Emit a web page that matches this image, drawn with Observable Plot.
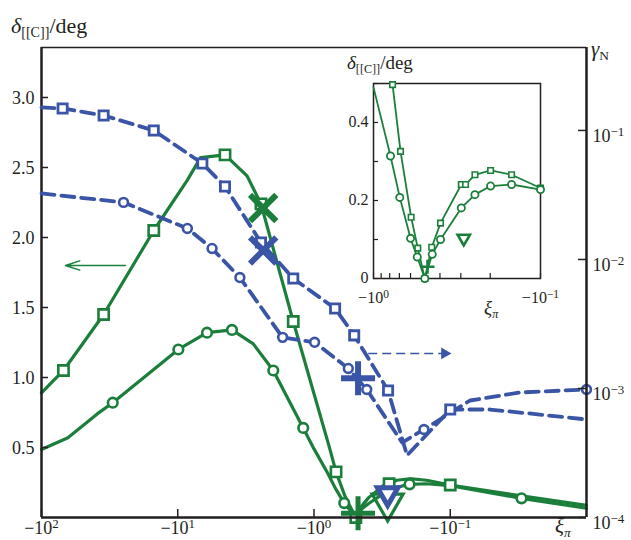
<!DOCTYPE html>
<html><head><meta charset="utf-8">
<script src="https://cdn.jsdelivr.net/npm/d3@7"></script>
<script src="https://cdn.jsdelivr.net/npm/@observablehq/plot@0.6"></script>
<style>
body{margin:0;background:#fff;}
#wrap{position:relative;width:631px;height:540px;overflow:hidden;}
#wrap svg{position:absolute;left:0;top:0;}
#wrap svg text{font-family:"Liberation Serif",serif;}
</style></head><body>
<div id="wrap"></div>
<script>
// ---------- data (xi = ξπ, negative values) ----------
const xiDomain = [-100, -0.01];
const deltaMax = 3.357;
const gammaDomain = [1e-4, 0.4395];

const xiTicksMain = [-100, -10, -1, -0.1];
const xiTickLabels = ["−10^2", "−10^1", "−10^0", "−10^−1"];
const deltaTicks = [0.5, 1.0, 1.5, 2.0, 2.5, 3.0];
const gammaTicks = [1e-4, 1e-3, 1e-2, 1e-1];
const gammaTickLabels = ["10^−4", "10^−3", "10^−2", "10^−1"];

const insetXiDomain = [-1, -0.1];
const insetDeltaDomain = [0, 0.5];
const insetXTicks = [-1, -0.9, -0.8, -0.7, -0.6, -0.5, -0.4, -0.3, -0.2, -0.1];
const insetXLabelTicks = [-1, -0.1];
const insetXTickLabels = ["−10^0", "−10^−1"];
const insetYTicks = [0, 0.1, 0.2, 0.3, 0.4, 0.5];
const insetYLabelTicks = [0, 0.2, 0.4];
const insetYTickLabels = ["0", "0.2", "0.4"];

// green solid, squares: δ[[C]] (deg)
const gSqXi    = [-100, -69, -35, -15, -8.5, -6.8, -4.5, -3.1, -2.45, -1.42, -0.769, -0.689, -0.595, -0.543, -0.493, -0.448, -0.397, -0.298, -0.281, -0.247, -0.199, -0.149, -0.1, -0.03, -0.01];
const gSqDelta = [0.89, 1.05, 1.45, 2.05, 2.41, 2.57, 2.59, 2.44, 2.24, 1.40, 0.497, 0.326, 0.157, 0.078, 0.0, 0.080, 0.142, 0.241, 0.241, 0.266, 0.277, 0.266, 0.232, 0.155, 0.087];
const gSqMainMarks = [-69, -35, -15, -4.5, -2.45, -1.42, -0.689, -0.493, -0.281, -0.1];

// green solid, circles: δ[[C]] (deg)
const gCiXi    = [-100, -64, -39, -30, -9.9, -6.1, -4.0, -2.79, -1.99, -1.2, -1.0, -0.791, -0.696, -0.6, -0.547, -0.493, -0.445, -0.397, -0.298, -0.247, -0.199, -0.149, -0.1, -0.03, -0.01];
const gCiDelta = [0.486, 0.57, 0.74, 0.82, 1.20, 1.32, 1.34, 1.24, 1.05, 0.64, 0.49, 0.314, 0.208, 0.103, 0.055, 0.0, 0.062, 0.100, 0.181, 0.215, 0.237, 0.241, 0.228, 0.137, 0.066];
const gCiMainMarks = [-30, -9.9, -6.1, -4.0, -1.99, -1.2, -0.6, -0.199, -0.03];

// blue dashed, squares: γN
const bSqXi    = [-100, -70, -35, -15, -6.6, -4.5, -2.45, -1.42, -0.70, -0.507, -0.286, -0.2075, -0.1, -0.0511, -0.022, -0.01];
const bSqGamma = [0.1507, 0.148, 0.1306, 0.100, 0.0555, 0.0368, 0.01355, 0.00713, 0.00417, 0.00258, 0.000964, 0.000303, 0.000687, 0.000687, 0.000628, 0.000575];
const bSqMarks = [-70, -35, -15, -6.6, -4.5, -2.45, -1.42, -0.70, -0.507, -0.286, -0.1];

// blue dashed, circles: γN
const bCiXi    = [-100, -25, -8.5, -5.6, -3.5, -1.7, -0.99, -0.56, -0.41, -0.2255, -0.156, -0.0716, -0.0308, -0.01];
const bCiGamma = [0.0325, 0.0277, 0.0174, 0.01217, 0.00724, 0.00249, 0.00228, 0.00143, 0.000982, 0.000381, 0.000481, 0.000807, 0.000931, 0.000982];
const bCiMarks = [-25, -8.5, -5.6, -3.5, -1.7, -0.99, -0.56, -0.41, -0.156, -0.01];

// special symbols
const crossXi = [-2.36], crossDelta = [2.21], crossGamma = [0.01175];
const plusXi = [-0.475], plusDelta = [0.03], plusGamma = [0.0012];
const triXi = [-0.288], triDelta = [0.103], triGamma = [1.53e-4];

// annotation arrows
const greenArrow = [{x1: -24.2, x2: -66.7, y: 1.8}];
const blueArrow = [{x1: -0.40, x2: -0.11, y: 0.00187}];

// ---------- build ----------
const W = 631, H = 540;
const GREEN = "#1b7f3b", BLUE = "#3a55a5", INK = "#231f20";
const FONT = "Liberation Serif";
const M = {marginLeft: 41, marginRight: 45, marginTop: 47, marginBottom: 23};
const FW = W - M.marginLeft - M.marginRight, FH = H - M.marginTop - M.marginBottom;

const pts = (xs, vs) => xs.map((x, i) => ({xi: x, v: vs[i]}));
const pick = (arr, marks) => arr.filter(d => marks.includes(d.xi));
const gSq = pts(gSqXi, gSqDelta), gCi = pts(gCiXi, gCiDelta);
const bSq = pts(bSqXi, bSqGamma), bCi = pts(bCiXi, bCiGamma);
const crossG = pts(crossXi, crossDelta), crossB = pts(crossXi, crossGamma);
const plusG = pts(plusXi, plusDelta), plusB = pts(plusXi, plusGamma);
const triG = pts(triXi, triDelta), triB = pts(triXi, triGamma);
const fmtMap = (ticks, labels) => { const m = new Map(ticks.map((t, i) => [t, labels[i]])); return d => m.get(d); };
const baseStyle = (fs) => ({fontFamily: FONT, fontSize: fs, background: "transparent", overflow: "visible", color: INK});

const pG = Plot.plot({
  width: W, height: H, ...M,
  style: baseStyle("18px"),
  x: {type: "log", domain: xiDomain, label: null},
  y: {domain: [0, deltaMax], label: null},
  marks: [
    Plot.ruleY([deltaMax], {stroke: INK, strokeWidth: 1.5}),
    Plot.arrow(greenArrow, {x1: "x1", x2: "x2", y1: "y", y2: "y", stroke: GREEN, strokeWidth: 1.5, headLength: 15, headAngle: 36}),
    Plot.line(gSq, {x: "xi", y: "v", stroke: GREEN, strokeWidth: 3.2}),
    Plot.line(gCi, {x: "xi", y: "v", stroke: GREEN, strokeWidth: 3.2}),
    Plot.dot(pick(gSq, gSqMainMarks), {x: "xi", y: "v", symbol: "square", r: 5.8, fill: "white", stroke: GREEN, strokeWidth: 2.6}),
    Plot.dot(pick(gCi, gCiMainMarks), {x: "xi", y: "v", symbol: "circle", r: 4.8, fill: "white", stroke: GREEN, strokeWidth: 2.6}),
    Plot.dot(crossG, {x: "xi", y: "v", symbol: "times", r: 12, stroke: GREEN, strokeWidth: 6}),
    Plot.dot(plusG, {x: "xi", y: "v", symbol: "plus", r: 11, stroke: GREEN, strokeWidth: 5}),
    Plot.dot(triG, {x: "xi", y: "v", symbol: "triangle", rotate: 180, r: 11.5, fill: "none", stroke: GREEN, strokeWidth: 3.2}),
    Plot.tickX(xiTicksMain, {x: d => d, insetTop: FH - 8, stroke: INK, strokeWidth: 1.5}),
    Plot.tickY(deltaTicks, {y: d => d, insetRight: FW - 7, stroke: INK, strokeWidth: 1.5}),
    Plot.ruleX([xiDomain[0]], {stroke: INK, strokeWidth: 2.5}),
    Plot.ruleY([0], {stroke: INK, strokeWidth: 2.5}),
    Plot.axisX(xiTicksMain, {tickSize: 0, tickPadding: 4, fontFamily: FONT, fontSize: 18, tickFormat: fmtMap(xiTicksMain, xiTickLabels), label: null}),
    Plot.axisY(deltaTicks, {tickSize: 0, tickPadding: 7, fontFamily: FONT, fontSize: 18, tickFormat: d => d.toFixed(1), dy: 1, label: null})
  ]
});

const pB = Plot.plot({
  width: W, height: H, ...M,
  style: baseStyle("18px"),
  x: {type: "log", domain: xiDomain, axis: null, label: null},
  y: {type: "log", domain: gammaDomain, label: null},
  marks: [
    Plot.link(blueArrow, {x1: "x1", x2: "x2", y1: "y", y2: "y", stroke: BLUE, strokeWidth: 1.5, strokeDasharray: "9,5"}),
    Plot.dot(blueArrow, {x: "x2", y: "y", symbol: "triangle", rotate: 90, r: 4.4, fill: BLUE, stroke: "none"}),
    Plot.line(bSq, {x: "xi", y: "v", stroke: BLUE, strokeWidth: 3.8, strokeDasharray: "13,7"}),
    Plot.line(bCi, {x: "xi", y: "v", stroke: BLUE, strokeWidth: 3.8, strokeDasharray: "13,7"}),
    Plot.dot(pick(bSq, bSqMarks), {x: "xi", y: "v", symbol: "square", r: 5.2, fill: "white", stroke: BLUE, strokeWidth: 2.8}),
    Plot.dot(pick(bCi, bCiMarks), {x: "xi", y: "v", symbol: "circle", r: 4.4, fill: "white", stroke: BLUE, strokeWidth: 2.6}),
    Plot.dot(crossB, {x: "xi", y: "v", symbol: "times", r: 12, stroke: BLUE, strokeWidth: 6}),
    Plot.dot(plusB, {x: "xi", y: "v", symbol: "plus", r: 11, stroke: BLUE, strokeWidth: 6}),
    Plot.dot(triB, {x: "xi", y: "v", symbol: "triangle", rotate: 180, r: 7.6, fill: "white", stroke: BLUE, strokeWidth: 5}),
    Plot.ruleX([xiDomain[1]], {stroke: INK, strokeWidth: 2.5}),
    Plot.tickY(gammaTicks, {y: d => d, insetLeft: FW - 8, stroke: INK, strokeWidth: 1.5}),
    Plot.axisY(gammaTicks, {anchor: "right", tickSize: 0, tickPadding: 6, dy: 6, fontFamily: FONT, fontSize: 18, tickFormat: fmtMap(gammaTicks, gammaTickLabels), label: null})
  ]
});

const IL = 373, IR = 540, IT = 83, IB = 278;
const inRange = d => d.xi >= insetXiDomain[0] && d.xi <= insetXiDomain[1];
const pI = Plot.plot({
  width: W, height: H,
  marginLeft: IL, marginRight: W - IR, marginTop: IT, marginBottom: H - IB,
  style: baseStyle("16px"),
  x: {type: "log", domain: insetXiDomain, label: null},
  y: {domain: insetDeltaDomain, label: null},
  marks: [
    Plot.frame({fill: "white", stroke: INK, strokeWidth: 1.5}),
    Plot.tickX(insetXTicks, {x: d => d, insetTop: (IB - IT) - 5, stroke: INK, strokeWidth: 1.2}),
    Plot.tickY(insetYTicks, {y: d => d, insetRight: (IR - IL) - 5, stroke: INK, strokeWidth: 1.2}),
    Plot.line(gSq.filter(inRange), {x: "xi", y: "v", stroke: GREEN, strokeWidth: 1.8}),
    Plot.line(gCi.filter(inRange), {x: "xi", y: "v", stroke: GREEN, strokeWidth: 1.8}),
    Plot.dot(gSq.filter(inRange), {x: "xi", y: "v", symbol: "square", r: 3.1, fill: "white", stroke: GREEN, strokeWidth: 1.6}),
    Plot.dot(gCi.filter(d => inRange(d) && d.xi > insetXiDomain[0]), {x: "xi", y: "v", symbol: "circle", r: 3.6, fill: "white", stroke: GREEN, strokeWidth: 1.8}),
    Plot.dot(plusG, {x: "xi", y: "v", symbol: "plus", r: 4.6, stroke: GREEN, strokeWidth: 2.6}),
    Plot.dot(triG, {x: "xi", y: "v", symbol: "triangle", rotate: 180, r: 4.6, fill: "none", stroke: GREEN, strokeWidth: 2.6}),
    Plot.axisX(insetXLabelTicks, {tickSize: 0, tickPadding: 13, fontFamily: FONT, fontSize: 16, tickFormat: fmtMap(insetXLabelTicks, insetXTickLabels), label: null}),
    Plot.axisY(insetYLabelTicks, {tickSize: 0, tickPadding: 5, fontFamily: FONT, fontSize: 16, dy: -1, tickFormat: fmtMap(insetYLabelTicks, insetYTickLabels), label: null})
  ]
});

// superscripts in tick labels ("a^b")
function superscripts(svg) {
  for (const t of svg.querySelectorAll("text")) {
    const s = t.textContent, i = s.indexOf("^");
    if (i < 0) continue;
    t.textContent = s.slice(0, i);
    const sp = document.createElementNS("http://www.w3.org/2000/svg", "tspan");
    sp.setAttribute("dy", "-0.45em");
    sp.setAttribute("font-size", "72%");
    sp.textContent = s.slice(i + 1);
    t.appendChild(sp);
  }
}
[pG, pB, pI].forEach(superscripts);

const wrap = document.getElementById("wrap");
wrap.appendChild(pG);
wrap.appendChild(pB);
wrap.appendChild(pI);

// axis titles
const lab = d3.select(wrap).append("svg").attr("width", W).attr("height", H)
  .style("font-family", "'Liberation Serif', serif").attr("fill", INK);
function rich(x, y, size, parts) {
  const t = lab.append("text").attr("x", x).attr("y", y).attr("font-size", size);
  let shifted = false;
  for (const [txt, kind] of parts) {
    const sp = t.append("tspan").text(txt);
    if (kind && kind.includes("i")) sp.attr("font-style", "italic");
    if (kind && kind.includes("sub")) { sp.attr("font-size", "64%").attr("dy", "0.3em"); shifted = true; }
    else if (shifted) { sp.attr("dy", "-0.19em"); shifted = false; }
  }
}
rich(11, 33, 22, [["δ", "i"], ["[[C]]", "sub"], ["/deg", ""]]);
rich(347, 69, 19, [["δ", "i"], ["[[C]]", "sub"], ["/deg", ""]]);
rich(591, 56, 21, [["γ", "i"], ["N", "sub"]]);
rich(555, 533, 21, [["ξ", "i"], ["π", "i sub"]]);
rich(484, 314, 19, [["ξ", "i"], ["π", "i sub"]]);
</script>
</body></html>
